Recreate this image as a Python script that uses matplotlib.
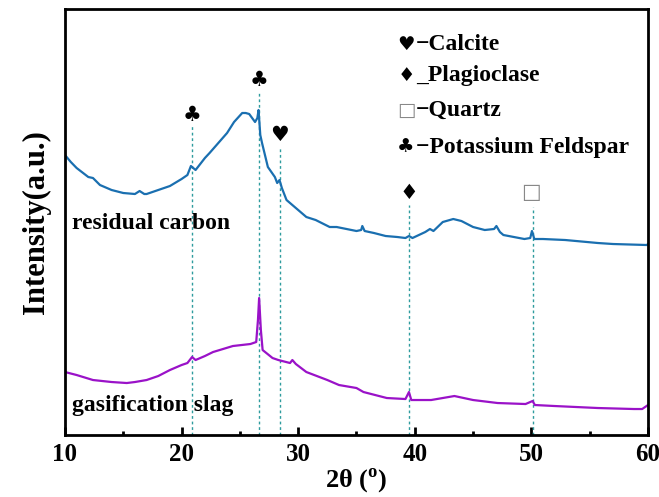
import numpy as np
import matplotlib
matplotlib.use("Agg")
import matplotlib.pyplot as plt
from matplotlib.ticker import MultipleLocator

plt.rcParams["mathtext.default"] = "bf"

# residual carbon curve (2theta, intensity a.u.)
rc_x = [10.0, 10.5, 11, 12, 12.4, 13, 14, 15, 16, 16.4, 16.8, 17, 18, 19, 20, 20.5,
        20.8, 21.0, 21.2, 22, 22.4, 23, 23.9, 24.5, 25.2, 25.5, 25.8, 26.3, 26.5,
        26.6, 26.75, 26.9, 27.4, 28.0, 28.2, 28.4, 28.6, 29, 30, 30.7, 31.5, 32.7,
        33.3, 35, 35.4, 35.5, 35.7, 36.5, 37.5, 38.5, 39.2, 39.5, 39.8, 40.9, 41.3,
        41.6, 42.4, 43.3, 44, 45, 46, 46.8, 47.0, 47.3, 47.6, 48.5, 49.4, 49.9,
        50.05, 50.25, 51, 52.9, 55.7, 57, 59.9, 60]
rc_y = [280, 273, 267, 258, 257, 250, 245, 242, 241, 244, 241, 241, 245, 249, 256, 260,
        269, 267, 265, 277, 282, 290, 302, 313, 322, 322, 321, 313, 317,
        325, 300, 292, 268, 258, 252, 255, 247, 235, 225, 218, 215, 208,
        208, 204, 205, 209, 204, 202, 199, 198, 197, 199, 197, 203, 206,
        204, 213, 216, 214, 208, 205, 206, 209, 203, 200, 198, 196, 197,
        204, 196, 196, 195, 192, 191, 190, 191]

# gasification slag curve
gs_x = [10, 11, 12.4, 14, 15.3, 16, 17, 18, 19, 20, 20.5, 20.9, 21.2, 22, 22.7, 24.4,
        25.9, 26.4, 26.55, 26.65, 26.8, 26.95, 27.8, 28.3, 29.3, 29.5, 29.8, 30.7,
        32.5, 33.5, 35, 35.6, 37.6, 39.2, 39.5, 39.7, 41.4, 43.4, 45, 47.1, 49.5,
        50.1, 50.3, 52, 55.7, 58.8, 59.5, 60]
gs_y = [63, 60, 55, 53, 52, 53, 55, 59, 65, 70, 72, 78, 75, 79, 83, 89,
        91, 93, 115, 137, 105, 85, 77, 75, 72, 75, 71, 63,
        55, 50, 47, 43, 37, 36, 43, 35, 35, 39, 35, 32, 31,
        34, 30, 29, 27, 26, 26, 30]

# phase reference lines: position, top of dashed line
phase_pos = [20.9, 26.6, 28.4, 39.5, 50.1]
phase_top = [310, 342, 287, 230, 228]
# symbols above lines
sym_x = [20.9, 26.6, 28.4, 39.5, 50.0]
sym_y = [320, 355, 300, 242, 243]
sym_txt = ["\u2663", "\u2663", "\u2665", "\u2666", "\u25a1"]

legend_sym = ["\u2665", "\u2666", "\u25a1", "\u2663"]
legend_lab = ["\u2212Calcite", "_Plagioclase", "\u2212Quartz", "\u2212Potassium Feldspar"]
legend_y = [390, 360, 325, 288]

serif = ["Liberation Serif", "DejaVu Sans"]

fig = plt.figure(figsize=(6.59, 4.97), dpi=100)
ax = fig.add_axes([0.0986, 0.1247, 0.8847, 0.8572])

ax.vlines(phase_pos, 0, phase_top, colors="#2e9c9e", linestyles=(0, (2, 2)), lw=1.0)
ax.plot(rc_x, rc_y, color="#1a6fb0", lw=1.6)
ax.plot(gs_x, gs_y, color="#9a12c8", lw=1.6)

for x, y, s in zip(sym_x, sym_y, sym_txt):
    col = "#888888" if s == "\u25a1" else "black"
    ax.text(x, y, s, ha="center", va="center", fontsize=15, color=col,
            family="DejaVu Sans")

for s, lab, y in zip(legend_sym, legend_lab, legend_y):
    col = "#888888" if s == "\u25a1" else "black"
    ax.text(39.25, y, s, ha="center", va="center", fontsize=14, color=col,
            family="DejaVu Sans")
    ax.text(40.1, y, lab, ha="left", va="center", fontsize=17, fontweight="bold",
            family=serif)

ax.text(10.6, 212, "residual carbon", fontsize=17, fontweight="bold", family=serif,
        va="center")
ax.text(10.6, 30, "gasification slag", fontsize=17, fontweight="bold", family=serif,
        va="center")

ax.set_xlim(10, 60)
ax.set_ylim(0, 426)
ax.xaxis.set_major_locator(MultipleLocator(10))
ax.xaxis.set_minor_locator(MultipleLocator(5))
ax.tick_params(axis="x", which="major", direction="in", length=6, width=2, pad=6)
ax.tick_params(axis="x", which="minor", direction="in", length=3, width=2)
ax.set_yticks([])
for sp in ax.spines.values():
    sp.set_linewidth(2)
for lbl in ax.get_xticklabels():
    lbl.set_fontfamily(serif)
    lbl.set_fontweight("bold")
    lbl.set_fontsize(18)

ax.set_xlabel("2\u03b8 ($^{\\mathregular{o}}$)", fontsize=19, fontweight="bold",
              family=serif, labelpad=0)
ax.set_ylabel("Intensity(a.u.)", fontsize=22, fontweight="bold", family=serif,
              labelpad=10)

fig.savefig("out.png", dpi=100)
